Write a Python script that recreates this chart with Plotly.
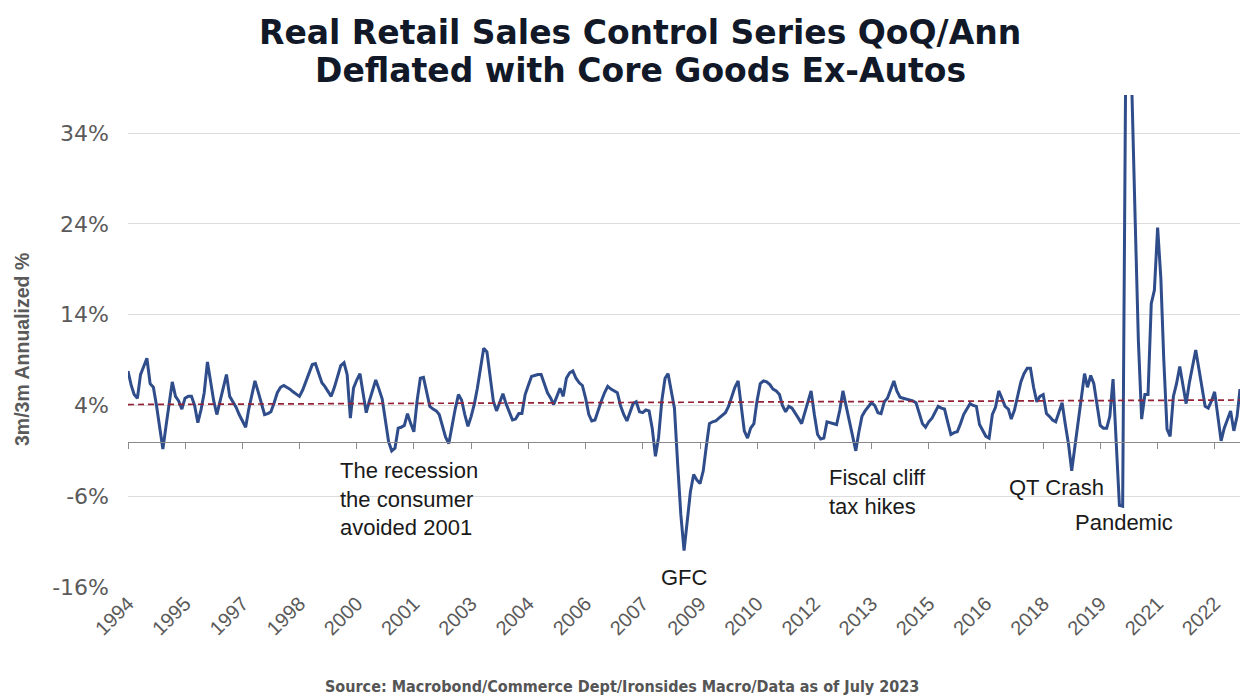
import pandas as pd
import plotly.graph_objects as go

# Real retail sales control group, 3m/3m annualized %, monthly from Jan 1994
growth = [
    7.8, 6.2, 5.2, 4.8, 7.4, 8.3, 9.2, 6.4, 6.0, 4.0, 1.6, -0.8,      # 1994
    1.8, 4.5, 6.6, 5.0, 4.5, 3.6, 4.8, 5.0, 5.0, 4.0, 2.1, 3.5,       # 1995
    5.4, 8.8, 6.5, 4.5, 3.0, 4.5, 6.0, 7.4, 5.0, 4.4, 3.8, 3.0,       # 1996
    2.2, 1.6, 3.5, 5.2, 6.7, 5.5, 4.2, 3.0, 3.1, 3.3, 4.3, 5.4,       # 1997
    6.0, 6.2, 6.0, 5.8, 5.5, 5.2, 5.0, 5.7, 6.6, 7.6, 8.5, 8.6,       # 1998
    7.5, 6.5, 6.1, 5.6, 5.0, 6.0, 7.2, 8.4, 8.7, 7.4, 2.6, 5.9,       # 1999
    6.8, 7.5, 5.4, 3.2, 4.5, 5.7, 6.8, 5.8, 4.7, 2.4, 0.0, -1.0,      # 2000
    -0.7, 1.5, 1.6, 1.8, 3.1, 2.0, 1.1, 4.5, 7.0, 7.1, 5.5, 3.9,      # 2001
    3.6, 3.4, 3.0, 1.8, 0.5, -0.2, 1.8, 3.6, 5.2, 4.6, 3.0, 1.7,      # 2002
    2.8, 4.2, 5.9, 8.0, 10.3, 9.9, 7.0, 4.5, 3.4, 4.4, 5.3, 4.2,      # 2003
    3.2, 2.4, 2.5, 3.1, 3.1, 5.2, 6.2, 7.2, 7.3, 7.4, 7.4, 6.5,       # 2004
    5.4, 4.8, 4.1, 5.0, 5.9, 5.0, 7.0, 7.6, 7.8, 7.0, 6.5, 6.2,       # 2005
    4.8, 3.0, 2.3, 2.4, 3.5, 4.5, 5.4, 6.1, 5.8, 5.6, 5.4, 4.0,       # 2006
    3.0, 2.3, 3.2, 4.2, 4.4, 3.3, 3.2, 3.5, 3.4, 1.5, -1.6, 0.5,      # 2007
    4.5, 7.0, 7.5, 5.5, 3.7, -2.5, -8.0, -12.0, -9.0, -5.5, -3.6, -4.2,  # 2008
    -4.6, -3.2, -0.6, 2.0, 2.2, 2.3, 2.6, 2.9, 3.2, 3.9, 5.0, 6.0,    # 2009
    6.7, 3.5, 1.2, 0.4, 1.5, 2.0, 4.5, 6.4, 6.7, 6.6, 6.3, 5.8,       # 2010
    5.6, 5.2, 4.0, 3.3, 3.9, 3.7, 3.2, 2.6, 2.0, 3.2, 4.5, 5.6,       # 2011
    3.0, 0.8, 0.3, 0.4, 2.2, 2.1, 2.0, 1.9, 3.5, 5.6, 3.9, 2.2,       # 2012
    0.5, -1.0, 1.0, 2.8, 3.4, 3.8, 4.3, 4.0, 3.2, 3.1, 4.4, 4.8,      # 2013
    5.8, 6.7, 5.6, 4.9, 4.8, 4.7, 4.6, 4.5, 4.3, 3.2, 2.0, 1.6,       # 2014
    2.2, 2.6, 3.2, 3.9, 3.7, 3.6, 2.2, 0.8, 1.0, 1.1, 2.0, 3.0,       # 2015
    3.6, 4.2, 4.0, 3.9, 1.9, 1.2, 0.6, 0.4, 3.0, 3.8, 5.6, 4.8,       # 2016
    3.9, 3.6, 2.5, 3.5, 5.2, 6.6, 7.5, 8.1, 8.1, 6.0, 4.4, 5.0,       # 2017
    5.2, 3.1, 2.8, 2.4, 2.2, 3.2, 4.3, 1.9, -0.3, -3.2, -0.5, 2.5,    # 2018
    5.0, 7.5, 6.0, 7.3, 6.4, 4.0, 1.8, 1.5, 1.5, 2.8, 6.9, 0.0,       # 2019
    -7.0, -7.1, 41.0, 43.0, 38.0, 24.0, 11.0, 2.5, 5.2, 5.2, 15.2, 16.7,  # 2020
    23.6, 18.0, 9.0, 1.4, 0.6, 5.0, 6.4, 8.3, 6.0, 4.2, 6.5, 8.5,     # 2021
    10.1, 8.0, 6.0, 3.9, 3.7, 4.5, 5.5, 2.5, 0.1, 1.5, 2.5, 3.4,      # 2022
    1.2, 2.8, 5.8,                                                    # 2023
]
first_month = "1994-01-01"
months = pd.date_range(first_month, periods=len(growth), freq="MS")

# Long-run trend of the series (start and end levels)
trend_levels = [4.1, 4.6]

# Axis ticks
x_tick_dates = ["1994-01-01", "1995-07-01", "1997-01-01", "1998-07-01", "2000-01-01",
                "2001-07-01", "2003-01-01", "2004-07-01", "2006-01-01", "2007-07-01",
                "2009-01-01", "2010-07-01", "2012-01-01", "2013-07-01", "2015-01-01",
                "2016-07-01", "2018-01-01", "2019-07-01", "2021-01-01", "2022-07-01"]
x_tick_labels = ["1994", "1995", "1997", "1998", "2000", "2001", "2003", "2004", "2006",
                 "2007", "2009", "2010", "2012", "2013", "2015", "2016", "2018", "2019",
                 "2021", "2022"]
y_ticks = [-16, -6, 4, 14, 24, 34]
y_range = [-16, 38.2]

# Event notes: (text, date, level, horizontal anchor)
events = [
    ("The recession<br>the consumer<br>avoided 2001", "1999-07-01", -1.6, "left"),
    ("GFC", "2008-08-01", -15.0, "center"),
    ("Fiscal cliff<br>tax hikes", "2012-05-01", -2.3, "left"),
    ("QT Crash", "2017-01-15", -5.0, "left"),
    ("Pandemic", "2018-10-15", -8.9, "left"),
]

title_lines = ["Real Retail Sales Control Series QoQ/Ann",
               "Deflated with Core Goods Ex-Autos"]
source_note = "Source: Macrobond/Commerce Dept/Ironsides Macro/Data as of July 2023"

# Plot-area geometry in pixels (used to place paper-referenced text)
PLOT_L, PLOT_R, PLOT_T, PLOT_B = 128, 1240, 95, 587
PW, PH = PLOT_R - PLOT_L, PLOT_B - PLOT_T


def px_x(px):
    return (px - PLOT_L) / PW


def px_y(py):
    return (PLOT_B - py) / PH


GRAY = "#5a5a5a"
fig = go.Figure()

fig.add_trace(go.Scatter(
    x=months, y=growth, mode="lines",
    line=dict(color="#2f4c8b", width=3),
    hoverinfo="skip", showlegend=False,
))
fig.add_trace(go.Scatter(
    x=[months[0], months[-1]], y=trend_levels, mode="lines",
    line=dict(color="#952236", width=1.7, dash="6px,4px"),
    xaxis="x2", yaxis="y", hoverinfo="skip", showlegend=False,
))

zero_pos = (0 - y_range[0]) / (y_range[1] - y_range[0])

fig.update_layout(
    width=1241, height=698,
    margin=dict(l=PLOT_L, r=1241 - PLOT_R, t=PLOT_T, b=698 - PLOT_B),
    paper_bgcolor="white", plot_bgcolor="white",
    font=dict(family="Liberation Sans, Arial, sans-serif", color=GRAY),
    xaxis=dict(
        type="date", range=[months[0], months[-1]],
        tickvals=x_tick_dates, ticktext=x_tick_labels, tickangle=-45,
        tickfont=dict(size=20, color=GRAY),
        showgrid=False, showline=False, zeroline=False, ticks="",
    ),
    xaxis2=dict(
        overlaying="x", matches="x", anchor="free", position=zero_pos,
        tickvals=x_tick_dates, showticklabels=False,
        showline=True, linecolor="#8a8a8a", linewidth=1.2,
        ticks="outside", ticklen=6, tickcolor="#8a8a8a", tickwidth=1,
        showgrid=False, zeroline=False,
    ),
    yaxis=dict(
        range=y_range, tickvals=y_ticks, ticktext=[f"{v}%" for v in y_ticks],
        tickfont=dict(family="DejaVu Sans, sans-serif", size=22, color=GRAY),
        ticklabelstandoff=18,
        showgrid=True, gridcolor="#dcdcdc", gridwidth=1.2,
        zeroline=False, showline=False, ticks="", ticklen=0,
    ),
)

# Two-line heading
for line, center_px in zip(title_lines, [32, 71]):
    fig.add_annotation(
        text=line, xref="paper", yref="paper",
        x=px_x(640), y=px_y(center_px), xanchor="center", yanchor="middle",
        showarrow=False,
        font=dict(family="DejaVu Sans, Verdana, sans-serif", size=33,
                  color="#111827", weight="bold"),
    )

fig.add_annotation(
    text="3m/3m Annualized %", textangle=-90,
    xref="paper", yref="paper", x=px_x(22), y=px_y(350),
    xanchor="center", yanchor="middle",
    showarrow=False, font=dict(size=19.5, color=GRAY, weight="bold"),
)

for text, date, level, anchor in events:
    fig.add_annotation(
        text=text, x=date, y=level, xref="x", yref="y",
        xanchor=anchor, yanchor="top" if "<br>" in text else "middle",
        align="left", showarrow=False,
        font=dict(size=22, color="#1a1a1a"),
    )

fig.add_annotation(
    text=source_note,
    xref="paper", yref="paper", x=px_x(622), y=px_y(686),
    xanchor="center", yanchor="middle", showarrow=False,
    font=dict(family="DejaVu Sans Condensed, Liberation Sans Narrow, sans-serif",
              size=16, color="#555555", weight="bold"),
)

fig.write_html("out.html")
